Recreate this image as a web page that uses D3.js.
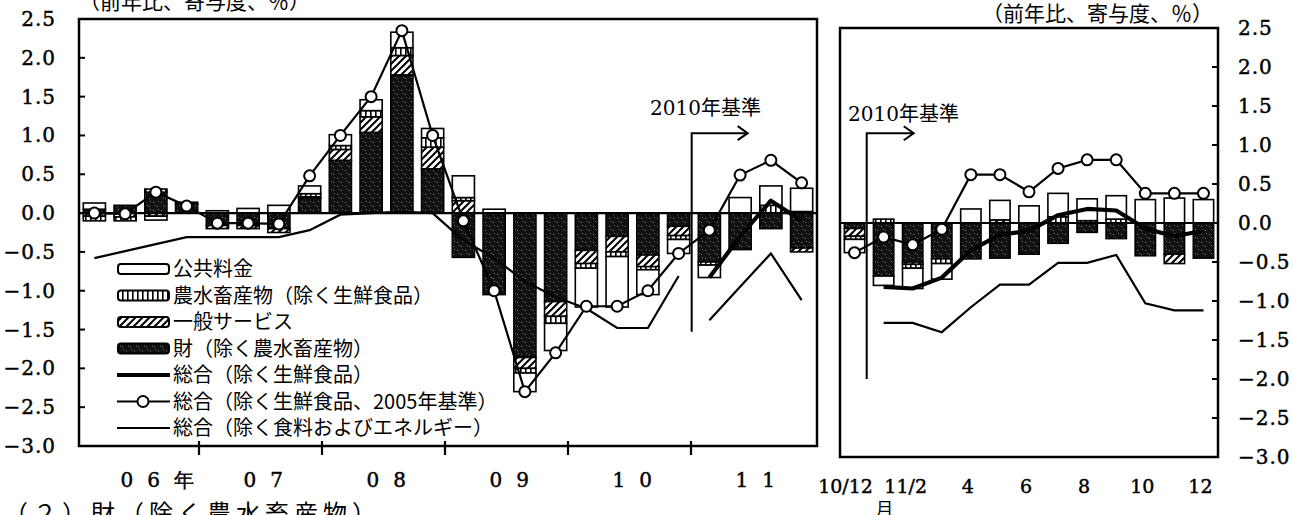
<!DOCTYPE html>
<html>
<head>
  <meta charset="utf-8">
  <title>消費者物価（除く生鮮食品）の寄与度</title>
  <script src="https://cdn.jsdelivr.net/npm/d3@7/dist/d3.min.js"></script>
  <style>
    body { margin: 0; background: #fff; }
    svg { display: block; }
    .num { font-family: "DejaVu Serif", serif; font-size: 20px; stroke: #000; stroke-width: 0.45px; }
    .jp { font-family: "Noto Sans CJK JP", sans-serif; font-size: 20px; }
  </style>
</head>
<body>
<svg id="chart"></svg>
<script>
// quarterly panel, 2006Q1 - 2011Q4
const quarters = ["06Q1", "06Q2", "06Q3", "06Q4", "07Q1", "07Q2", "07Q3", "07Q4",
  "08Q1", "08Q2", "08Q3", "08Q4", "09Q1", "09Q2", "09Q3", "09Q4",
  "10Q1", "10Q2", "10Q3", "10Q4", "11Q1", "11Q2", "11Q3", "11Q4"];
const qPublic = [0.08, 0, -0.05, 0.02, 0.03, 0.06, 0.1, 0.1, 0.14, 0.14, 0.2, 0.12,
  0.28, 0.05, -0.24, -0.35, -0.5, -0.65, -0.32, -0.18, -0.16, 0.2, 0.25, 0.3];
const qAgri = [-0.06, -0.05, 0.04, 0, 0, 0, 0, 0.04, 0.05, 0.08, 0.1, 0.12,
  0.04, 0, -0.06, -0.09, -0.06, -0.06, -0.04, -0.05, -0.04, 0, 0.1, 0.02];
const qServices = [-0.04, -0.05, -0.04, 0, -0.04, -0.04, -0.05, 0.02, 0.14, 0.2, 0.25, 0.28,
  0.16, 0, -0.14, -0.19, -0.17, -0.2, -0.15, -0.12, 0, 0, 0, -0.05];
const qGoods = [0.05, 0.1, 0.27, 0.12, -0.16, -0.16, -0.2, 0.19, 0.68, 1.04, 1.78, 0.57,
  -0.57, -1.05, -1.86, -1.14, -0.48, -0.3, -0.54, -0.17, -0.63, -0.47, -0.2, -0.45];
const qCore2010 = [null, null, null, null, null, null, null, null, null, null, null, null,
  null, null, null, null, null, null, null, null, -0.83, -0.3, 0.16, -0.1];
const qCore2005 = [0.0, -0.01, 0.27, 0.09, -0.13, -0.13, -0.14, 0.48, 1.0, 1.5, 2.35, 1.0,
  -0.1, -1.0, -2.3, -1.8, -1.2, -1.2, -1.0, -0.52, -0.22, 0.49, 0.68, 0.39];
const qCoreCore2005 = [-0.58, -0.49, -0.4, -0.31, -0.31, -0.31, -0.31, -0.22, -0.02, 0.0, 0.02, 0.0,
  -0.35, -0.58, -0.88, -1.08, -1.23, -1.48, -1.48, -0.81, null, null, null, null];
const qCoreCore2010 = [null, null, null, null, null, null, null, null, null, null, null, null,
  null, null, null, null, null, null, null, null, -1.38, -0.95, -0.52, -1.12];
const years = ["06年", "07", "08", "09", "10", "11"];

// monthly panel, 2010/12 - 2011/12
const months = ["10/12", "11/1", "11/2", "11/3", "11/4", "11/5", "11/6",
  "11/7", "11/8", "11/9", "11/10", "11/11", "11/12"];
const mPublic = [-0.17, -0.12, -0.26, -0.2, 0.18, 0.25, 0.22, 0.3, 0.28, 0.3, 0.3, 0.32, 0.3];
const mAgri = [-0.04, 0.05, -0.05, -0.06, 0, 0, 0, 0.08, 0.03, 0.05, 0, 0, 0];
const mServices = [-0.1, 0, -0.03, 0, 0, 0.04, 0, 0, 0, 0, 0, -0.12, 0];
const mGoods = [-0.07, -0.68, -0.5, -0.46, -0.46, -0.45, -0.4, -0.26, -0.12, -0.2, -0.42, -0.4, -0.45];
const mCore2010 = [null, -0.82, -0.84, -0.7, -0.35, -0.15, -0.1, 0.1, 0.18, 0.16, -0.07, -0.17, -0.1];
const mCore2005 = [-0.38, -0.18, -0.28, -0.08, 0.62, 0.62, 0.4, 0.7, 0.81, 0.81, 0.38, 0.38, 0.38];
const mCoreCore2010 = [null, -1.28, -1.28, -1.4, -1.08, -0.79, -0.79, -0.51, -0.51, -0.41, -1.03, -1.12, -1.12];
const monthTicks = ["10/12", "11/2", "11/4", "11/6", "11/8", "11/10", "11/12"];
const monthTickLabels = ["10/12", "11/2", "4", "6", "8", "10", "12"];

const legendLabels = ["公共料金", "農水畜産物（除く生鮮食品）", "一般サービス", "財（除く農水畜産物）",
  "総合（除く生鮮食品）", "総合（除く生鮮食品、2005年基準）", "総合（除く食料およびエネルギー）"];

const width = 1293;
const height = 515;

const svg = d3.select("#chart")
  .attr("width", width)
  .attr("height", height)
  .attr("viewBox", [0, 0, width, height]);

svg.append("rect").attr("width", width).attr("height", height).attr("fill", "#fff");

// Patterns for the bar segments.
const defs = svg.append("defs");

const pGoods = defs.append("pattern").attr("id", "pGoods")
  .attr("patternUnits", "userSpaceOnUse").attr("width", 8).attr("height", 8);
pGoods.append("rect").attr("width", 8).attr("height", 8).attr("fill", "#111");
[[1, 2], [5, 6], [6, 1], [3, 5]].forEach(([a, b]) =>
  pGoods.append("rect").attr("x", a).attr("y", b).attr("width", 1).attr("height", 1).attr("fill", "#7a7a7a"));

const pServ = defs.append("pattern").attr("id", "pServ")
  .attr("patternUnits", "userSpaceOnUse").attr("width", 7).attr("height", 7);
pServ.append("rect").attr("width", 7).attr("height", 7).attr("fill", "#fff");
pServ.append("path").attr("d", "M0,7L7,0M-2,2L2,-2M5,9L9,5")
  .attr("stroke", "#000").attr("stroke-width", 2);

const pAgri = defs.append("pattern").attr("id", "pAgri")
  .attr("patternUnits", "userSpaceOnUse").attr("width", 5).attr("height", 6);
pAgri.append("rect").attr("width", 5).attr("height", 6).attr("fill", "#fff");
pAgri.append("rect").attr("x", 0).attr("width", 1.6).attr("height", 6).attr("fill", "#000");

const keys = ["goods", "serv", "agri", "pub"];
const fills = { goods: "url(#pGoods)", serv: "url(#pServ)", agri: "url(#pAgri)", pub: "#fff" };

// Scales.
const xL = d3.scaleBand().domain(quarters).range([79, 817]).paddingInner(0.28).paddingOuter(0.14);
const yL = d3.scaleLinear().domain([-3, 2.5]).range([446, 19]);
const xR = d3.scaleBand().domain(months).range([840, 1218]).paddingInner(0.3).paddingOuter(0.15);
const yR = d3.scaleLinear().domain([-3, 2.5]).range([457, 28]);

const fmt = d3.format(".1f");

function drawPanel(x, y, cats, pub, agri, serv, goods, core10, core05, coreCore) {
  const g = svg.append("g");
  const cx = k => x(k) + x.bandwidth() / 2;

  const rows = cats.map((k, i) => ({ k, goods: goods[i], serv: serv[i], agri: agri[i], pub: pub[i] }));
  const stacked = d3.stack().keys(keys).offset(d3.stackOffsetDiverging)(rows);

  // Append the stacked bars.
  g.append("g")
    .selectAll("g")
    .data(stacked)
    .join("g")
    .attr("fill", d => fills[d.key])
    .selectAll("rect")
    .data(d => d.filter(s => s[1] !== s[0]))
    .join("rect")
    .attr("x", d => x(d.data.k))
    .attr("width", x.bandwidth())
    .attr("y", d => y(Math.max(d[0], d[1])))
    .attr("height", d => Math.abs(y(d[0]) - y(d[1])))
    .attr("stroke", "#000")
    .attr("stroke-width", 1.6);

  // Zero line.
  g.append("line")
    .attr("x1", x.range()[0]).attr("x2", x.range()[1])
    .attr("y1", y(0)).attr("y2", y(0))
    .attr("stroke", "#000").attr("stroke-width", 2.2);

  const line = d3.line()
    .defined(d => d.v != null)
    .x(d => cx(d.k))
    .y(d => y(d.v));

  coreCore.forEach(s => {
    g.append("path")
      .datum(cats.map((k, i) => ({ k, v: s[i] })))
      .attr("fill", "none").attr("stroke", "#000").attr("stroke-width", 2.2)
      .attr("d", line);
  });

  g.append("path")
    .datum(cats.map((k, i) => ({ k, v: core10[i] })))
    .attr("fill", "none").attr("stroke", "#000").attr("stroke-width", 4.2)
    .attr("stroke-linejoin", "round")
    .attr("d", line);

  const c05 = cats.map((k, i) => ({ k, v: core05[i] }));
  g.append("path")
    .datum(c05)
    .attr("fill", "none").attr("stroke", "#000").attr("stroke-width", 2.2)
    .attr("d", line);

  g.append("g")
    .selectAll("circle")
    .data(c05.filter(d => d.v != null))
    .join("circle")
    .attr("cx", d => cx(d.k))
    .attr("cy", d => y(d.v))
    .attr("r", 5.5)
    .attr("fill", "#fff")
    .attr("stroke", "#000")
    .attr("stroke-width", 2);

  // Frame.
  g.append("rect")
    .attr("x", x.range()[0]).attr("y", y.range()[1])
    .attr("width", x.range()[1] - x.range()[0])
    .attr("height", y.range()[0] - y.range()[1])
    .attr("fill", "none").attr("stroke", "#000").attr("stroke-width", 2.5);

  return g;
}

const gL = drawPanel(xL, yL, quarters, qPublic, qAgri, qServices, qGoods,
  qCore2010, qCore2005, [qCoreCore2005, qCoreCore2010]);
const gR = drawPanel(xR, yR, months, mPublic, mAgri, mServices, mGoods,
  mCore2010, mCore2005, [mCoreCore2010]);

// Left y axis.
const ticksL = yL.ticks(11);
gL.append("g")
  .selectAll("line")
  .data(ticksL)
  .join("line")
  .attr("x1", 79).attr("x2", 85)
  .attr("y1", d => yL(d)).attr("y2", d => yL(d))
  .attr("stroke", "#000").attr("stroke-width", 2);
gL.append("g")
  .attr("class", "num")
  .attr("text-anchor", "end")
  .selectAll("text")
  .data(ticksL)
  .join("text")
  .attr("x", 56)
  .attr("y", d => yL(d))
  .attr("dy", "0.35em")
  .attr("letter-spacing", 1)
  .text(d => fmt(d));

// Right y axis.
const ticksR = yR.ticks(11);
gR.append("g")
  .selectAll("line")
  .data(ticksR)
  .join("line")
  .attr("x1", 1212).attr("x2", 1218)
  .attr("y1", d => yR(d)).attr("y2", d => yR(d))
  .attr("stroke", "#000").attr("stroke-width", 2);
gR.append("g")
  .attr("class", "num")
  .selectAll("text")
  .data(ticksR)
  .join("text")
  .attr("x", 1238)
  .attr("y", d => yR(d))
  .attr("dy", "0.35em")
  .attr("letter-spacing", 1)
  .text(d => fmt(d));

// Left x axis: year boundaries and year labels.
const gap = (xL.step() - xL.bandwidth()) / 2;
const yearStarts = quarters.filter((q, i) => i % 4 === 0);
gL.append("g")
  .selectAll("line")
  .data(yearStarts.slice(1))
  .join("line")
  .attr("x1", d => xL(d) - gap - 3).attr("x2", d => xL(d) - gap - 3)
  .attr("y1", yL(-3) - 5).attr("y2", yL(-3) + 9)
  .attr("stroke", "#000").attr("stroke-width", 2.2);
gL.append("g")
  .selectAll("text")
  .data(yearStarts)
  .join("text")
  .attr("class", "num")
  .attr("x", d => xL(d) - gap + 2 * xL.step() - 20)
  .attr("y", 487)
  .attr("letter-spacing", 14)
  .text((d, i) => years[i]);

// Right x labels.
gR.append("g")
  .attr("class", "num")
  .attr("text-anchor", "middle")
  .style("font-size", "19px")
  .selectAll("text")
  .data(monthTicks)
  .join("text")
  .attr("x", (d, i) => xR(d) + xR.bandwidth() / 2 - (i === 1 ? 7 : i === 0 ? 9 : 3))
  .attr("y", 493)
  .text((d, i) => monthTickLabels[i]);
svg.append("text").attr("class", "jp").attr("text-anchor", "middle")
  .style("font-size", "18px")
  .attr("x", xR(months[1]) + xR.bandwidth() / 2 + 1).attr("y", 516).text("月");

// Base-change markers.
function baseMarker(x0, yTop, yBottom, len, tx, ty) {
  const g = svg.append("g").attr("fill", "none").attr("stroke", "#000").attr("stroke-width", 2);
  g.append("path").attr("d", `M${x0},${yBottom}V${yTop}H${x0 + len}`);
  g.append("path").attr("d", `M${x0 + len - 10},${yTop - 7}L${x0 + len},${yTop}L${x0 + len - 10},${yTop + 7}`);
  svg.append("text")
    .attr("x", tx).attr("y", ty)
    .style("font-family", "'DejaVu Serif', 'Noto Sans CJK JP', serif")
    .style("font-size", "20px")
    .text("2010年基準");
}
baseMarker(xL(quarters[19]) + xL.bandwidth() + 2, yL(1.03), yL(-1.53), 56, 650, 115);
baseMarker(xR(months[0]) + xR.bandwidth() + 2, yR(1.15), yR(-2.0), 47, 848, 121);

// Unit titles.
svg.append("text").attr("class", "jp").style("font-size", "21px")
  .attr("x", 79).attr("y", 9).text("（前年比、寄与度、％）");
svg.append("text").attr("class", "jp").style("font-size", "21px")
  .attr("x", 982).attr("y", 21).text("（前年比、寄与度、％）");

// Legend.
const legend = svg.append("g").attr("transform", "translate(117,269)");
const rowH = 26.5;
legendLabels.forEach((label, i) => {
  const row = legend.append("g").attr("transform", `translate(0,${i * rowH})`);
  if (i < 4) {
    row.append("rect")
      .attr("x", 1).attr("y", -5).attr("width", 51).attr("height", 10).attr("rx", 3)
      .attr("fill", fills[["pub", "agri", "serv", "goods"][i]])
      .attr("stroke", "#000").attr("stroke-width", 2);
  } else {
    row.append("line").attr("x1", 0).attr("x2", 53).attr("y1", 0).attr("y2", 0)
      .attr("stroke", "#000").attr("stroke-width", i === 4 ? 4.2 : 2.2);
    if (i === 5) {
      row.append("circle").attr("cx", 26).attr("cy", 0).attr("r", 5.5)
        .attr("fill", "#fff").attr("stroke", "#000").attr("stroke-width", 2);
    }
  }
  row.append("text").attr("class", "jp")
    .attr("x", 56).attr("y", 0).attr("dy", "0.35em")
    .text(label);
});

// Caption below (cut by the page edge).
svg.append("text").attr("class", "jp").style("font-size", "24px")
  .attr("x", 4).attr("y", 522).attr("letter-spacing", 5)
  .text("（２）財（除く農水畜産物）");
</script>
</body>
</html>
